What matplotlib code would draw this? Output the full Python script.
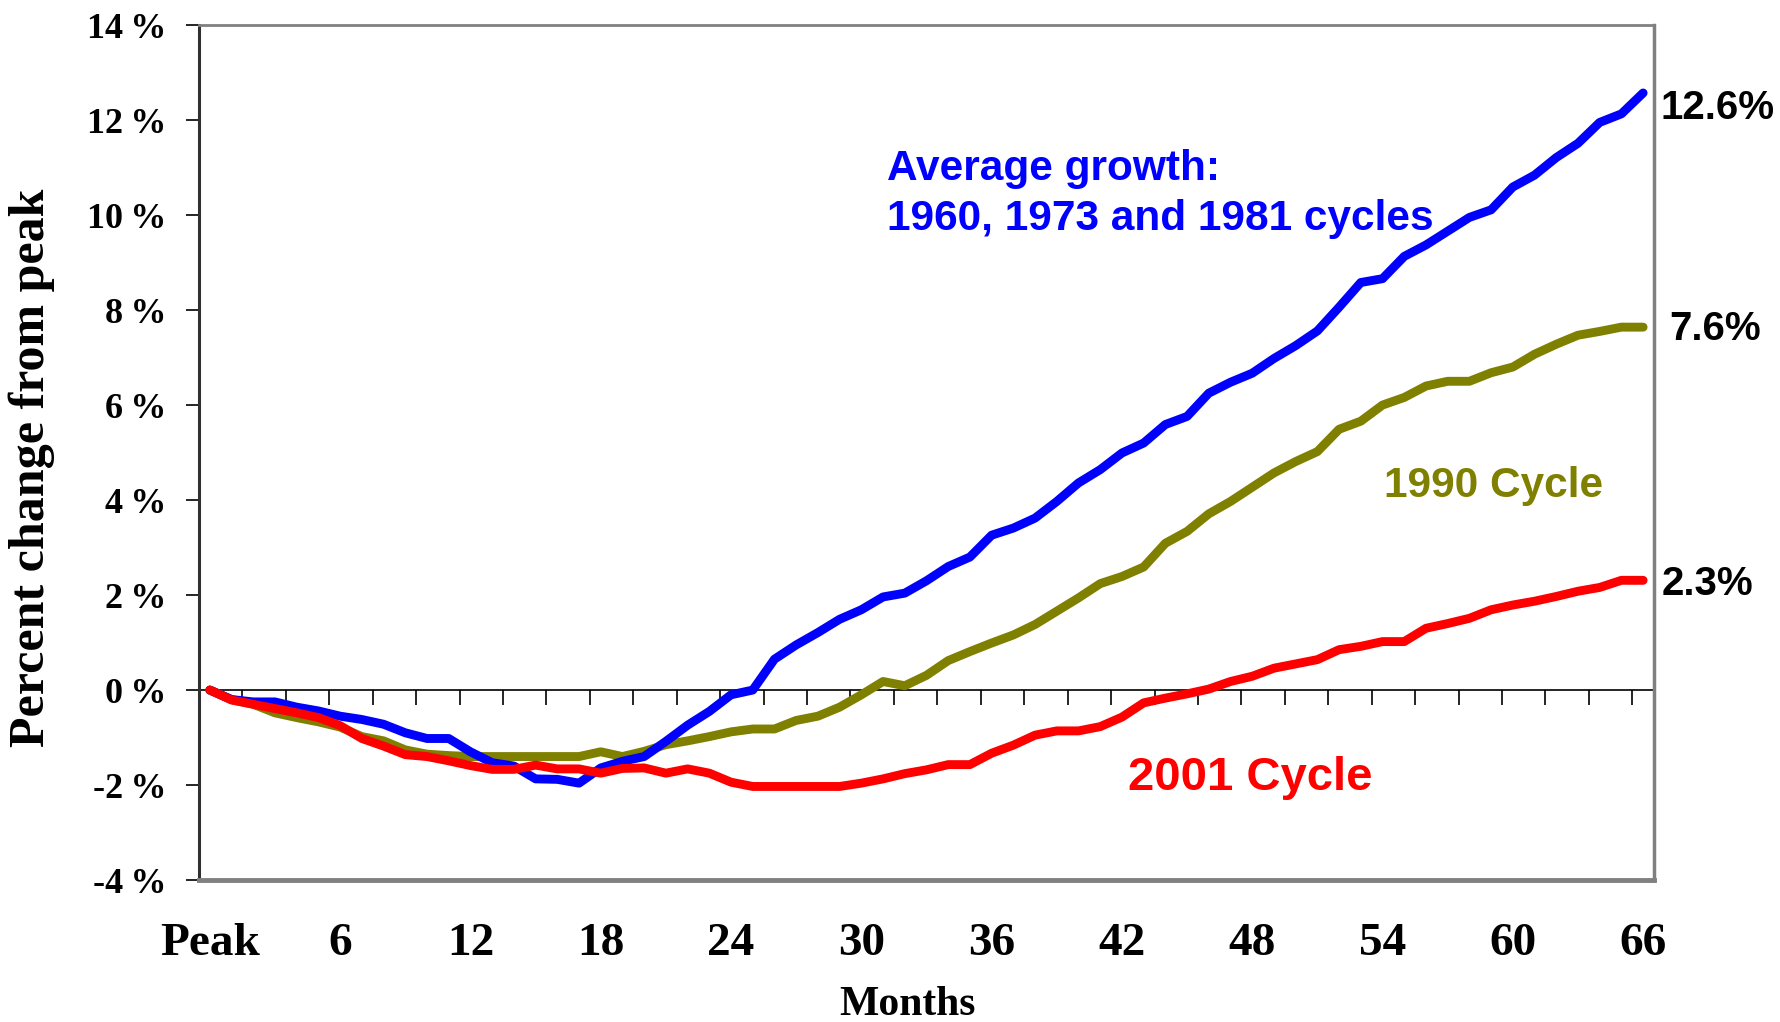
import numpy as np
import matplotlib
matplotlib.use("Agg")
import matplotlib.pyplot as plt

months = list(range(67))
avg_1960_73_81 = [0, -0.2, -0.25, -0.25, -0.36, -0.44, -0.55, -0.62, -0.72, -0.9,
                  -1.02, -1.02, -1.3, -1.53, -1.6, -1.87, -1.88, -1.96, -1.64, -1.5,
                  -1.4, -1.08, -0.74, -0.45, -0.1, 0.0, 0.65, 0.95, 1.21, 1.49,
                  1.69, 1.96, 2.04, 2.3, 2.6, 2.8, 3.26, 3.41, 3.62, 3.97,
                  4.36, 4.64, 4.99, 5.2, 5.59, 5.76, 6.25, 6.48, 6.67, 6.98,
                  7.25, 7.56, 8.06, 8.58, 8.66, 9.13, 9.37, 9.66, 9.95, 10.11,
                  10.59, 10.84, 11.21, 11.51, 11.95, 12.13, 12.57]
cycle_1990 = [0, -0.2, -0.3, -0.48, -0.58, -0.67, -0.78, -0.98, -1.07, -1.26,
              -1.35, -1.38, -1.4, -1.4, -1.4, -1.4, -1.4, -1.4, -1.3, -1.4,
              -1.29, -1.15, -1.07, -0.98, -0.88, -0.82, -0.82, -0.64, -0.55, -0.36,
              -0.1, 0.18, 0.09, 0.31, 0.62, 0.81, 0.99, 1.16, 1.38, 1.66,
              1.94, 2.24, 2.39, 2.59, 3.09, 3.34, 3.71, 3.97, 4.27, 4.57,
              4.81, 5.02, 5.49, 5.66, 6.0, 6.16, 6.4, 6.5, 6.5, 6.68,
              6.8, 7.07, 7.28, 7.47, 7.55, 7.64, 7.64]
cycle_2001 = [0, -0.21, -0.3, -0.39, -0.48, -0.58, -0.75, -1.02, -1.18, -1.36,
              -1.4, -1.49, -1.59, -1.67, -1.67, -1.58, -1.66, -1.66, -1.75, -1.65,
              -1.64, -1.75, -1.66, -1.75, -1.94, -2.03, -2.03, -2.03, -2.03, -2.03,
              -1.96, -1.87, -1.76, -1.68, -1.57, -1.57, -1.33, -1.16, -0.95, -0.86,
              -0.86, -0.77, -0.57, -0.27, -0.17, -0.08, 0.02, 0.18, 0.29, 0.46,
              0.55, 0.64, 0.85, 0.92, 1.02, 1.02, 1.3, 1.4, 1.51, 1.69,
              1.79, 1.87, 1.97, 2.08, 2.16, 2.31, 2.31]

x_tick_values = [0, 6, 12, 18, 24, 30, 36, 42, 48, 54, 60, 66]
x_tick_labels = ["Peak", "6", "12", "18", "24", "30", "36", "42", "48", "54", "60", "66"]
y_tick_values = [-4, -2, 0, 2, 4, 6, 8, 10, 12, 14]
y_tick_labels = ["-4\u2009%", "-2\u2009%", "0\u2009%", "2\u2009%", "4\u2009%",
                 "6\u2009%", "8\u2009%", "10\u2009%", "12\u2009%", "14\u2009%"]
end_labels = ["12.6%", "7.6%", "2.3%"]

BLUE, OLIVE, RED = "#0000FF", "#808000", "#FF0000"
SERIF = "Liberation Serif"
SANS = "Liberation Sans"

fig = plt.figure(figsize=(17.8, 10.22), dpi=100)
ax = fig.add_axes([0.1118, 0.1389, 0.9292 - 0.1118, 0.9755 - 0.1389])

lw = 6.4
ax.plot(months, cycle_1990, color=OLIVE, lw=lw, solid_capstyle="round", solid_joinstyle="round", zorder=3)
ax.plot(months, avg_1960_73_81, color=BLUE, lw=lw, solid_capstyle="round", solid_joinstyle="round", zorder=4)
ax.plot(months, cycle_2001, color=RED, lw=lw, solid_capstyle="round", solid_joinstyle="round", zorder=5)

ymin, ymax = -4, 14
ax.set_ylim(ymin, ymax)
ax.set_xlim(-0.5, len(months) - 0.5)

# y axis
ax.set_yticks(y_tick_values)
ax.set_yticklabels(y_tick_labels, fontfamily=SERIF, fontweight="bold", fontsize=26)
ax.tick_params(axis="y", direction="out", length=9.5, width=1.2, color="black", pad=14)

# x axis labels at bottom, no tick marks there
ax.set_xticks(x_tick_values)
ax.set_xticklabels(x_tick_labels, fontfamily=SERIF, fontweight="bold", fontsize=34)
ax.tick_params(axis="x", length=0, pad=31)

# zero line with tick marks between categories
sec = ax.secondary_xaxis((0 - ymin) / (ymax - ymin))
sec.set_xticks(np.arange(1.5, len(months) - 1, 2))
sec.tick_params(direction="out", length=11, width=1.2, color="black", labelbottom=False)
sec.spines["bottom"].set_color("black")
sec.spines["bottom"].set_linewidth(1.2)

# frame
ax.spines["left"].set_color("#303030")
ax.spines["left"].set_linewidth(2.2)
ax.spines["top"].set_color("#808080")
ax.spines["top"].set_linewidth(2.0)
ax.spines["right"].set_color("#808080")
ax.spines["right"].set_linewidth(2.5)
ax.spines["bottom"].set_color("#808080")
ax.spines["bottom"].set_linewidth(3.5)

ax.set_ylabel("Percent change from peak", fontfamily=SERIF, fontweight="bold", fontsize=36,
              va="center", ha="center")
ax.yaxis.set_label_coords(-0.115, 0.482)
ax.set_xlabel("Months", fontfamily=SERIF, fontweight="bold", fontsize=30, va="center")
ax.xaxis.set_label_coords(0.487, -0.146)

# annotations
ax.text(31.2, 10.45, "Average growth:\n1960, 1973 and 1981 cycles", color=BLUE,
        fontfamily=SANS, fontweight="bold", fontsize=30.5, ha="left", va="center",
        linespacing=1.32)
ax.text(59.1, 4.29, "1990 Cycle", color=OLIVE, fontfamily=SANS, fontweight="bold",
        fontsize=30.5, ha="center", va="center")
ax.text(47.9, -1.85, "2001 Cycle", color=RED, fontfamily=SANS, fontweight="bold",
        fontsize=34, ha="center", va="center")

end_offsets = [(12.5, -10.5), (19, -1.5), (13, -3)]
for series, label, off in zip([avg_1960_73_81, cycle_1990, cycle_2001], end_labels, end_offsets):
    ax.annotate(label, xy=(months[-1], series[-1]), xytext=off, textcoords="offset points",
                ha="left", va="center", fontfamily=SANS, fontweight="bold", fontsize=29,
                color="black", annotation_clip=False)

fig.savefig("out.png", dpi=100, facecolor="white")
